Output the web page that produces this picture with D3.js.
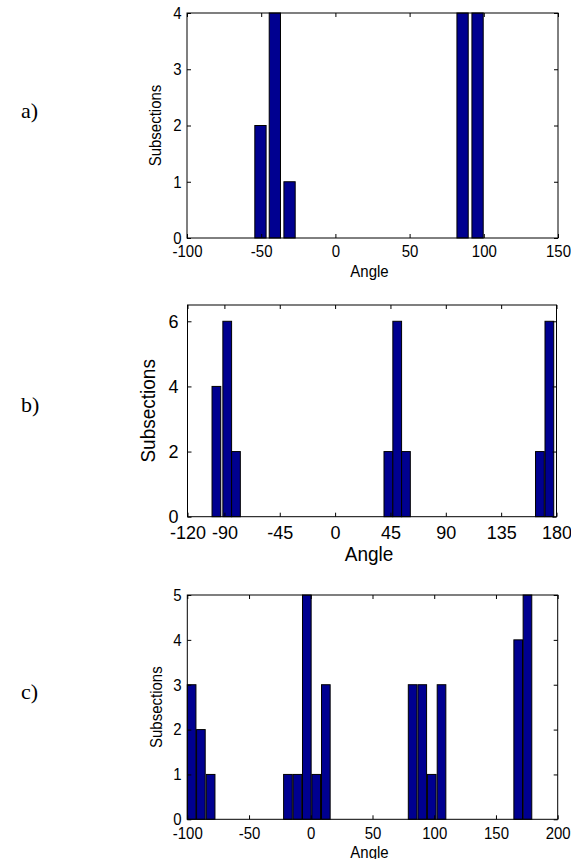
<!DOCTYPE html>
<html><head><meta charset="utf-8">
<script src="https://cdn.jsdelivr.net/npm/d3@7"></script>
<style>body{margin:0;background:#fff}</style>
</head><body>
<svg id="chart" width="571" height="859"></svg>
<script>
// ---- data ----
const panelLabels = ["a)", "b)", "c)"];
const xLabel = "Angle";
const yLabel = "Subsections";

const aAngles = [-50.5, -40.8, -30.9, 85.7, 95.8];
const aCounts = [2, 4, 1, 4, 4];
const aXTicks = [-100, -50, 0, 50, 100, 150];
const aYTicks = [0, 1, 2, 3, 4];

const bAngles = [-96.5, -87.7, -80.6, 43.3, 50.5, 57.6, 166.5, 174.2];
const bCounts = [4, 6, 2, 2, 6, 2, 2, 6];
const bXTicks = [-120, -90, -45, 0, 45, 90, 135, 180];
const bYTicks = [0, 2, 4, 6];

const cAngles = [-96.5, -89, -81.1, -18.5, -10.8, -3.2, 4.4, 12.2, 82.5, 90.3, 98, 105.9, 168, 175.5];
const cCounts = [3, 2, 1, 1, 1, 5, 1, 3, 3, 3, 1, 3, 4, 5];
const cXTicks = [-100, -50, 0, 50, 100, 150, 200];
const cYTicks = [0, 1, 2, 3, 4, 5];

// ---- layout / style ----
const panels = [
  {angles: aAngles, counts: aCounts, xTicks: aXTicks, yTicks: aYTicks, xDom: [-100, 150], yDom: [0, 4], bw: 7.6,
   left: 187, right: 558, top: 13, bottom: 238, font: 15, sy: 1.12, xPad: 7.5, yPad: 5.5, xlabY: 277, ylabX: 161, labY: 118},
  {angles: bAngles, counts: bCounts, xTicks: bXTicks, yTicks: bYTicks, xDom: [-120, 180], yDom: [0, 6.5], bw: 7.1,
   left: 187.5, right: 556.5, top: 305, bottom: 516.7, font: 18, sy: 1.05, xPad: 8.5, yPad: 9, xlabY: 561, ylabX: 155, labY: 412},
  {angles: cAngles, counts: cCounts, xTicks: cXTicks, yTicks: cYTicks, xDom: [-100, 200], yDom: [0, 5], bw: 7.0,
   left: 187.3, right: 557.7, top: 595, bottom: 819.3, font: 15, sy: 1.12, xPad: 7.8, yPad: 5.6, xlabY: 857.5, ylabX: 162, labY: 699}
];

const svg = d3.select("#chart");
svg.append("rect").attr("width", 571).attr("height", 859).attr("fill", "#fff");
const FONT = "Liberation Sans, Arial, Helvetica, sans-serif";
const fmt = d => String(d);

panels.forEach((p, i) => {
  const g = svg.append("g");
  const x = d3.scaleLinear().domain(p.xDom).range([p.left, p.right]);
  const y = d3.scaleLinear().domain(p.yDom).range([p.bottom, p.top]);

  // bars
  g.selectAll("rect.bar").data(p.angles.map((a, k) => ({a, v: p.counts[k]})))
    .join("rect").attr("class", "bar")
    .attr("x", d => x(d.a - p.bw / 2))
    .attr("width", d => x(d.a + p.bw / 2) - x(d.a - p.bw / 2))
    .attr("y", d => y(d.v))
    .attr("height", d => y(0) - y(d.v))
    .attr("fill", "#000090")
    .attr("stroke", "#000")
    .attr("stroke-width", 1);

  const styleAxis = sel => {
    sel.select(".domain").remove();
    sel.attr("font-family", FONT).attr("font-size", p.font);
    sel.selectAll("line").attr("stroke", "#000");
    sel.selectAll("text").attr("fill", "#000");
  };

  const xb = g.append("g").attr("transform", `translate(0,${p.bottom})`)
    .call(d3.axisBottom(x).tickValues(p.xTicks).tickFormat(fmt).tickSizeInner(-4).tickSizeOuter(0).tickPadding(p.xPad))
    .call(styleAxis);
  xb.selectAll("text").attr("y", p.xPad / p.sy).attr("transform", `scale(1,${p.sy})`);

  g.append("g").attr("transform", `translate(0,${p.top})`)
    .call(d3.axisTop(x).tickValues(p.xTicks).tickFormat("").tickSizeInner(-4).tickSizeOuter(0))
    .call(styleAxis);
  const yl = g.append("g").attr("transform", `translate(${p.left},0)`)
    .call(d3.axisLeft(y).tickValues(p.yTicks).tickFormat(fmt).tickSizeInner(-4).tickSizeOuter(0).tickPadding(p.yPad))
    .call(styleAxis);
  yl.selectAll("text").attr("transform", `scale(1,${p.sy})`);
  g.append("g").attr("transform", `translate(${p.right},0)`)
    .call(d3.axisRight(y).tickValues(p.yTicks).tickFormat("").tickSizeInner(-4).tickSizeOuter(0))
    .call(styleAxis);

  // box
  g.append("rect")
    .attr("x", p.left).attr("y", p.top)
    .attr("width", p.right - p.left).attr("height", p.bottom - p.top)
    .attr("fill", "none").attr("stroke", "#000").attr("stroke-width", 1);

  // axis labels
  g.append("text")
    .attr("transform", `translate(${(p.left + p.right) / 2 - 3},${p.xlabY}) scale(1,${p.sy})`)
    .attr("text-anchor", "middle")
    .attr("font-family", FONT).attr("font-size", p.font + (i === 1 ? 1 : 0))
    .text(xLabel);
  g.append("text")
    .attr("transform", `translate(${p.ylabX},${(p.top + p.bottom) / 2}) rotate(-90) scale(1,${p.sy})`)
    .attr("text-anchor", "middle")
    .attr("font-family", FONT).attr("font-size", p.font + (i === 1 ? 1 : 0))
    .text(yLabel);

  // panel label
  svg.append("text")
    .attr("x", 21).attr("y", p.labY)
    .attr("font-family", "Liberation Serif, Times New Roman, serif")
    .attr("font-size", 22)
    .text(panelLabels[i]);
});
</script>
</body></html>
